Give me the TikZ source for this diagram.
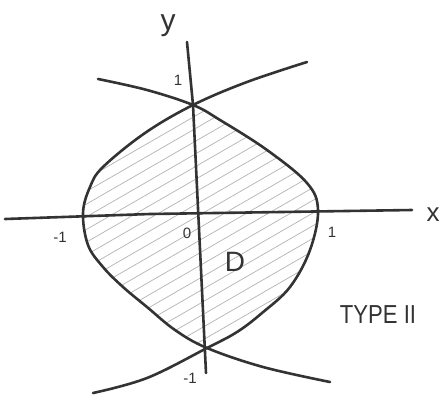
\documentclass[tikz,border=0pt]{standalone}
\usepackage{fontspec}
\setmainfont{Liberation Sans}
\begin{document}
\begin{tikzpicture}[x=1pt,y=-1pt,
  pen/.style={line width=2.6pt,draw=black!80,line cap=round,line join=round},
  hatchline/.style={line width=0.7pt,draw=black!30},
  lbl/.style={inner sep=0pt,text=black!80}]
\useasboundingbox (0,0) rectangle (443,402);
% key points
\coordinate (T) at (193,105);
\coordinate (B) at (207,348);
\coordinate (L) at (83,213);
\coordinate (R) at (318,210);
% region D hatching
\begin{scope}
\clip plot[smooth,tension=0.6] coordinates {(T) (145,133) (103,167) (90,187) (L) (88,245) (103,267) (123,287) (147,307) (175,330) (B)}
  -- plot[smooth,tension=0.6] coordinates {(B) (237,332) (262,313) (290,287) (310,250) (R) (307,183) (267,150) (220,120) (T)} -- cycle;
\foreach \k in {0,...,45}
  \draw[hatchline] (-420+\k*22,420) -- ++(600,-346);
\end{scope}
% axes
\draw[pen] (5,219) -- (150,214) -- (412,210);
\draw[pen] (187,42) -- (193,105) -- (206,373);
% left boundary curve x = y^2 - 1 (with extensions)
\draw[pen] plot[smooth,tension=0.6] coordinates {(307,62) (247,82) (T) (145,133) (103,167) (90,187) (L) (88,245) (103,267) (123,287) (147,307) (175,330) (B) (263,367) (330,382)};
% right boundary curve x = 1 - y^2 (with extensions)
\draw[pen] plot[smooth,tension=0.6] coordinates {(98,79) (147,90) (T) (220,120) (267,150) (307,183) (R) (310,250) (290,287) (262,313) (237,332) (B) (147,378) (93,393)};
% labels
\node[lbl,font=\fontsize{30}{30}\selectfont] (ly) at (168,26) {y};
\node[lbl,font=\fontsize{26}{26}\selectfont] (lx) at (433,215) {x};
\node[lbl,font=\fontsize{15}{15}\selectfont] (l1t) at (178,80) {1};
\node[lbl,font=\fontsize{15}{15}\selectfont] (lm1l) at (60,237) {-1};
\node[lbl,font=\fontsize{15}{15}\selectfont] (l0) at (187,233) {0};
\node[lbl,font=\fontsize{15}{15}\selectfont] (l1r) at (332,232) {1};
\node[lbl,font=\fontsize{15}{15}\selectfont] (lm1b) at (190,378) {-1};
\node[lbl,font=\fontsize{28}{28}\selectfont] (lD) at (235,262) {D};
\node[lbl,font=\fontsize{26}{26}\selectfont,xscale=0.85] (lt) at (378,315) {TYPE II};
\end{tikzpicture}
\end{document}
